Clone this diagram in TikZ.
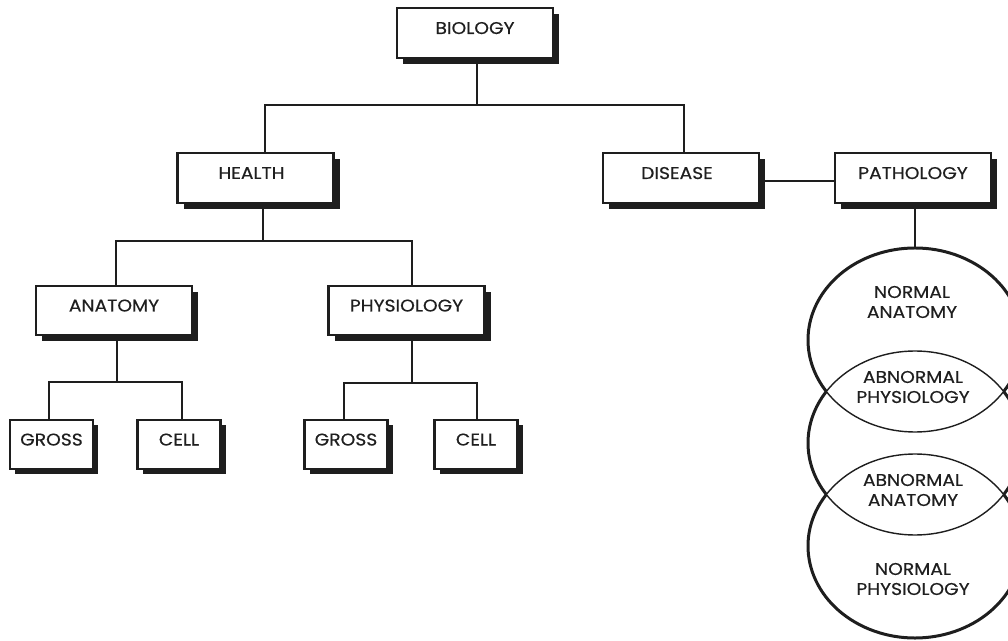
\documentclass[tikz,border=0pt]{standalone}
\usepackage{fontspec}
\setmainfont[FakeStretch=1.1,FakeBold=0.4]{Poppins}
\usetikzlibrary{shadows,shapes.geometric,backgrounds}
\definecolor{ink}{HTML}{1E1E1E}
\definecolor{txt}{HTML}{1F1F1F}

\begin{document}
\begin{tikzpicture}[x=1pt,y=1pt,
  labelfont/.style={text=txt, font=\fontsize{17}{20}\selectfont},
  base/.style={labelfont, draw=ink, fill=white, line width=2.2pt, inner sep=0pt, text depth=10pt},
  bigbox/.style={base, minimum width=156pt, minimum height=50pt,
    drop shadow={shadow xshift=6pt, shadow yshift=-6pt, fill=ink, opacity=1}},
  smallbox/.style={base, minimum width=83pt, minimum height=49pt,
    drop shadow={shadow xshift=5pt, shadow yshift=-5pt, fill=ink, opacity=1}},
  wire/.style={draw=ink, line width=2pt},
  ring/.style={draw=ink, line width=3pt},
  ringnode/.style={ellipse, draw=ink, line width=1.4pt, minimum width=214pt, minimum height=184pt, inner sep=0pt},
  tag/.style={labelfont, align=center, inner sep=0pt}
]
\useasboundingbox (0,0) rectangle (1008,640);

% tree of boxes
\node[bigbox] (bio) at (475,607) {BIOLOGY};
\node[bigbox] (health) at (255.5,462) {\hspace*{-8pt}HEALTH};
\node[bigbox] (disease) at (681,462) {\hspace*{-8pt}DISEASE};
\node[bigbox] (patho) at (913,462) {PATHOLOGY};
\node[bigbox, minimum height=49pt] (anat) at (114,329.5) {ANATOMY};
\node[bigbox, minimum height=49pt] (phys) at (406.5,329.5) {PHYSIOLOGY};
\node[smallbox] (gross1) at (51.5,195.5) {GROSS};
\node[smallbox] (cell1) at (179,195.5) {CELL};
\node[smallbox] (gross2) at (346,195.5) {GROSS};
\node[smallbox] (cell2) at (476,195.5) {CELL};

% three overlapping rings, cut by the right edge
\begin{scope}
  \clip (0,0) rectangle (1008,640);
  \node[ringnode] (ringA) at (915,300) {};
  \node[ringnode] (ringB) at (915,197) {};
  \node[ringnode] (ringC) at (915,94) {};
  % heavy outer outline
  \draw[ring] (ringA.center) ++(-34:107 and 92) arc[start angle=-34, end angle=214, x radius=107, y radius=92];
  \draw[ring] (ringB.center) ++(-34:107 and 92) arc[start angle=-34, end angle=34, x radius=107, y radius=92];
  \draw[ring] (ringB.center) ++(146:107 and 92) arc[start angle=146, end angle=214, x radius=107, y radius=92];
  \draw[ring] (ringC.center) ++(146:107 and 92) arc[start angle=146, end angle=394, x radius=107, y radius=92];
\end{scope}

\node[tag] (normanat) at (912,338) {NORMAL\\ANATOMY};
\node[tag] (abphys) at (913,253) {ABNORMAL\\PHYSIOLOGY};
\node[tag] (abanat) at (913,150) {ABNORMAL\\ANATOMY};
\node[tag] (normphys) at (913,61) {NORMAL\\PHYSIOLOGY};

% connectors
\begin{scope}[on background layer]
  \coordinate (j1) at (477,535);
  \draw[wire] ([xshift=2pt]bio.south) -- (j1);
  \draw[wire] ([xshift=9.5pt]health.north) |- (j1) -| ([xshift=3pt]disease.north);

  \coordinate (j2) at (263,399);
  \draw[wire] ([xshift=7.5pt]health.south) -- (j2);
  \draw[wire] ([xshift=2pt]anat.north) |- (j2) -| ([xshift=5.5pt]phys.north);

  \coordinate (j3) at (117,258);
  \draw[wire] ([xshift=3pt]anat.south) -- (j3);
  \draw[wire] ([xshift=-2.5pt]gross1.north) |- (j3) -| ([xshift=3pt]cell1.north);

  \coordinate (j4) at (412,257);
  \draw[wire] ([xshift=5.5pt]phys.south) -- (j4);
  \draw[wire] ([xshift=-2pt]gross2.north) |- (j4) -| ([xshift=1pt]cell2.north);

  \draw[wire] ([yshift=-3pt]disease.east) -- ([yshift=-3pt]patho.west);
  \draw[wire] ([xshift=2pt]patho.south) -- (ringA.north);
\end{scope}
\end{tikzpicture}
\end{document}
